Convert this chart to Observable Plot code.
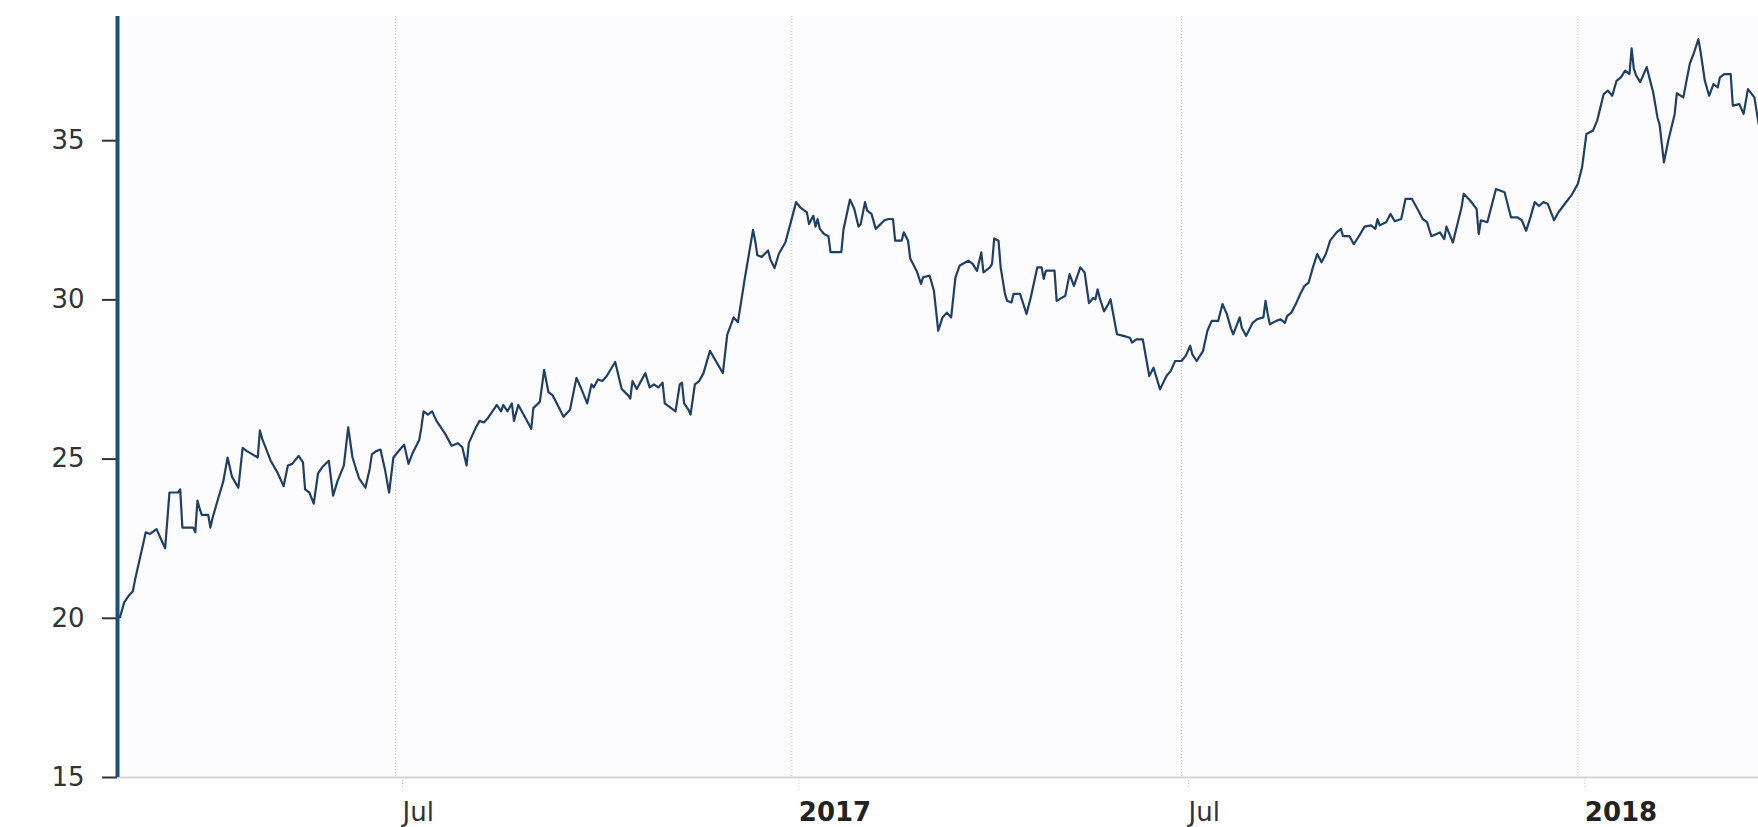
<!DOCTYPE html>
<html><head><meta charset="utf-8">
<script src="https://cdn.jsdelivr.net/npm/d3@7"></script>
<script src="https://cdn.jsdelivr.net/npm/@observablehq/plot@0.6"></script>
<style>html,body{margin:0;padding:0;background:#fff;} svg{display:block}</style>
</head><body><div id="chart"></div>
<script>
const dates = [
"2016-02-24","2016-02-26","2016-02-28","2016-03-01","2016-03-02","2016-03-05","2016-03-07","2016-03-09","2016-03-12","2016-03-14",
"2016-03-16","2016-03-18","2016-03-22","2016-03-23","2016-03-24","2016-03-29","2016-03-30","2016-03-31","2016-04-01","2016-04-02",
"2016-04-05","2016-04-06","2016-04-07","2016-04-10","2016-04-12","2016-04-14","2016-04-16","2016-04-19","2016-04-21","2016-04-23",
"2016-04-28","2016-04-29","2016-04-30","2016-05-04","2016-05-07","2016-05-10","2016-05-12","2016-05-14","2016-05-17","2016-05-19",
"2016-05-20","2016-05-22","2016-05-24","2016-05-26","2016-05-28","2016-05-31","2016-06-02","2016-06-04","2016-06-07","2016-06-09",
"2016-06-11","2016-06-14","2016-06-17","2016-06-19","2016-06-20","2016-06-22","2016-06-24","2016-06-26","2016-06-28","2016-06-30",
"2016-07-03","2016-07-05","2016-07-07","2016-07-09","2016-07-12","2016-07-13","2016-07-14","2016-07-16","2016-07-18","2016-07-20",
"2016-07-24","2016-07-27","2016-07-30","2016-08-01","2016-08-03","2016-08-04","2016-08-07","2016-08-09","2016-08-11","2016-08-13",
"2016-08-16","2016-08-17","2016-08-19","2016-08-20","2016-08-22","2016-08-24","2016-08-25","2016-08-27","2016-08-30","2016-09-02",
"2016-09-03","2016-09-06","2016-09-08","2016-09-10","2016-09-12","2016-09-15","2016-09-17","2016-09-20","2016-09-23","2016-09-25",
"2016-09-28","2016-09-30","2016-10-01","2016-10-03","2016-10-05","2016-10-07","2016-10-11","2016-10-14","2016-10-17","2016-10-18",
"2016-10-19","2016-10-21","2016-10-25","2016-10-27","2016-10-29","2016-10-31","2016-11-02","2016-11-03","2016-11-06","2016-11-08",
"2016-11-10","2016-11-11","2016-11-12","2016-11-14","2016-11-15","2016-11-17","2016-11-19","2016-11-21","2016-11-24","2016-11-27",
"2016-11-30","2016-12-02","2016-12-05","2016-12-07","2016-12-10","2016-12-14","2016-12-15","2016-12-16","2016-12-18","2016-12-21",
"2016-12-22","2016-12-24","2016-12-26","2016-12-29","2016-12-31",
"2017-01-03","2017-01-05","2017-01-08","2017-01-09","2017-01-11","2017-01-12","2017-01-13","2017-01-14","2017-01-16","2017-01-18",
"2017-01-19","2017-01-24","2017-01-25","2017-01-28","2017-01-30","2017-02-01","2017-02-02","2017-02-04","2017-02-05","2017-02-07",
"2017-02-09","2017-02-13","2017-02-15","2017-02-17","2017-02-18","2017-02-21","2017-02-22","2017-02-24","2017-02-25","2017-02-28",
"2017-03-02","2017-03-03","2017-03-06","2017-03-08","2017-03-10","2017-03-12","2017-03-14","2017-03-16","2017-03-18","2017-03-20",
"2017-03-24","2017-03-26","2017-03-28","2017-03-30","2017-03-31","2017-04-03","2017-04-04","2017-04-05","2017-04-07","2017-04-08",
"2017-04-10","2017-04-11","2017-04-13","2017-04-14","2017-04-17","2017-04-20","2017-04-22","2017-04-25","2017-04-27","2017-04-28",
"2017-04-29","2017-05-03","2017-05-04","2017-05-08","2017-05-10","2017-05-12","2017-05-15","2017-05-17","2017-05-19","2017-05-21",
"2017-05-22","2017-05-23","2017-05-24","2017-05-26","2017-05-28","2017-05-29","2017-06-01","2017-06-04","2017-06-07","2017-06-08",
"2017-06-10","2017-06-13","2017-06-16","2017-06-18","2017-06-21","2017-06-24","2017-06-26","2017-06-28","2017-07-01","2017-07-03",
"2017-07-05","2017-07-06","2017-07-08","2017-07-10","2017-07-11","2017-07-13","2017-07-15","2017-07-18","2017-07-20","2017-07-22",
"2017-07-24","2017-07-25","2017-07-28","2017-07-29","2017-07-31","2017-08-03","2017-08-05","2017-08-08","2017-08-09","2017-08-10",
"2017-08-11","2017-08-14","2017-08-16","2017-08-18","2017-08-19","2017-08-21","2017-08-23","2017-08-25","2017-08-27","2017-08-29",
"2017-08-31","2017-09-02","2017-09-04","2017-09-06","2017-09-08","2017-09-11","2017-09-13","2017-09-14","2017-09-17","2017-09-19",
"2017-09-21","2017-09-24","2017-09-27","2017-09-29","2017-09-30","2017-10-01","2017-10-04","2017-10-06","2017-10-08","2017-10-11",
"2017-10-13","2017-10-16","2017-10-19","2017-10-21","2017-10-23","2017-10-25","2017-10-29","2017-10-31","2017-11-01","2017-11-04",
"2017-11-08","2017-11-09","2017-11-12","2017-11-15","2017-11-16","2017-11-17","2017-11-20","2017-11-24","2017-11-28","2017-12-01",
"2017-12-04","2017-12-06","2017-12-08","2017-12-10","2017-12-12","2017-12-14","2017-12-16","2017-12-18","2017-12-21","2017-12-23",
"2017-12-26","2017-12-29",
"2018-01-01","2018-01-03","2018-01-05","2018-01-08","2018-01-10","2018-01-13","2018-01-15","2018-01-17","2018-01-19","2018-01-21",
"2018-01-23","2018-01-25","2018-01-26","2018-01-27","2018-01-28","2018-01-30","2018-02-02","2018-02-04","2018-02-05","2018-02-07",
"2018-02-08","2018-02-10","2018-02-12","2018-02-15","2018-02-16","2018-02-19","2018-02-22","2018-02-24","2018-02-26","2018-02-27",
"2018-03-01","2018-03-03","2018-03-05","2018-03-07","2018-03-08","2018-03-10","2018-03-13","2018-03-14","2018-03-17","2018-03-19",
"2018-03-21","2018-03-24","2018-03-26"
];
const values = [
20.03,20.5,20.7,20.85,21.2,22.1,22.7,22.65,22.8,22.5,
22.2,23.95,23.95,24.05,22.85,22.85,22.7,23.7,23.45,23.25,
23.25,22.85,23.15,23.85,24.3,25.05,24.45,24.1,25.35,25.25,
25.05,25.9,25.65,24.95,24.6,24.15,24.8,24.85,25.1,24.9,
24.05,23.95,23.6,24.55,24.75,24.95,23.85,24.3,24.8,26.0,
25.05,24.4,24.1,24.7,25.15,25.25,25.3,24.7,23.95,25.05,
25.3,25.45,24.85,25.2,25.6,26.0,26.5,26.4,26.5,26.2,
25.8,25.42,25.5,25.37,24.8,25.5,25.95,26.2,26.15,26.3,
26.6,26.7,26.5,26.7,26.5,26.75,26.2,26.7,26.33,25.95,
26.6,26.8,27.8,27.1,27.0,26.6,26.33,26.55,27.55,27.25,
26.75,27.35,27.25,27.5,27.45,27.6,28.05,27.2,27.0,26.9,
27.45,27.2,27.7,27.25,27.35,27.25,27.4,26.75,26.6,26.5,
27.35,27.4,26.75,26.55,26.4,27.35,27.45,27.7,28.4,28.05,
27.7,28.9,29.45,29.3,30.6,32.2,31.86,31.4,31.35,31.55,
31.28,31.0,31.45,31.8,32.3,
33.07,32.9,32.75,32.38,32.64,32.3,32.54,32.23,32.07,32.0,
31.5,31.5,32.2,33.15,32.86,32.3,32.38,33.07,32.8,32.7,
32.23,32.5,32.54,32.54,31.86,31.86,32.12,31.86,31.3,30.91,
30.5,30.71,30.76,30.29,29.03,29.45,29.6,29.45,30.71,31.08,
31.23,31.13,30.91,31.49,30.86,31.02,31.13,31.93,31.86,31.02,
30.19,29.97,29.92,30.19,30.19,29.56,30.08,31.02,31.02,30.66,
30.92,30.92,29.97,30.13,30.81,30.44,31.02,30.86,29.9,30.06,
30.02,30.33,30.06,29.64,29.87,30.02,28.92,28.87,28.81,28.66,
28.76,28.76,27.61,27.87,27.19,27.61,27.77,28.08,28.08,28.25,
28.56,28.29,28.08,28.29,28.4,29.03,29.34,29.34,29.87,29.56,
29.09,28.92,29.45,29.12,28.87,29.28,29.39,29.45,29.97,29.56,
29.23,29.34,29.39,29.28,29.49,29.6,29.86,30.17,30.43,30.54,
31.02,31.44,31.18,31.44,31.86,32.12,32.23,32.0,32.0,31.75,
31.96,32.3,32.34,32.23,32.54,32.34,32.44,32.7,32.47,32.54,
33.17,33.17,32.8,32.54,32.44,32.0,32.12,31.91,32.3,31.8,
32.9,33.33,33.12,32.86,32.07,32.5,32.44,33.48,33.38,32.59,
32.59,32.5,32.17,32.59,33.07,32.95,33.07,33.02,32.5,32.75,
33.02,33.28,
33.64,34.17,35.21,35.31,35.63,36.46,36.57,36.41,36.88,36.99,
37.2,37.09,37.9,37.27,37.06,36.84,37.31,36.78,36.52,35.73,
35.5,34.32,35.0,35.84,36.49,36.36,37.41,37.77,38.19,37.8,
36.88,36.41,36.78,36.67,36.99,37.09,37.09,36.1,36.15,35.84,
36.62,36.36,35.52
];
const yTicks = [15, 20, 25, 30, 35];
const julyTicks = ["2016-07-01", "2017-07-01"];
const yearTicks = ["2017-01-01", "2018-01-01"];
const xDomain = ["2016-02-22T21:00Z", "2018-03-25T22:00Z"];
const yDomain = [15, 38.9];

const data = dates.map((d, i) => ({date: new Date(d), value: values[i]}));
const jul = julyTicks.map(d => new Date(d));
const yr = yearTicks.map(d => new Date(d));
const allTicks = jul.concat(yr);

const chart = Plot.plot({
  width: 1758, height: 827,
  marginLeft: 117, marginRight: 0, marginTop: 16, marginBottom: 50,
  style: {fontFamily: "'DejaVu Sans', Verdana, sans-serif", background: "#ffffff", overflow: "visible"},
  x: {type: "utc", domain: xDomain.map(d => new Date(d)), label: null},
  y: {domain: yDomain, label: null},
  marks: [
    Plot.frame({fill: "#fcfcfe", stroke: null}),
    Plot.gridX(allTicks, {stroke: "#c4c4c4", strokeOpacity: 1, strokeDasharray: "1,2"}),
    Plot.ruleY([15], {stroke: "#d6d6d6", strokeWidth: 2}),
    Plot.axisX(jul, {tickSize: 11, tickPadding: 14, stroke: "#c4c4c4", strokeDasharray: "1,2",
      tickFormat: d3.utcFormat("%b"), textAnchor: "start", dx: 7, fontSize: 26, fill: "#333", label: null}),
    Plot.axisX(yr, {tickSize: 11, tickPadding: 14, stroke: "#c4c4c4", strokeDasharray: "1,2",
      tickFormat: d3.utcFormat("%Y"), textAnchor: "start", dx: 7, fontSize: 26, fontWeight: "bold", fill: "#222", label: null}),
    Plot.axisY(yTicks, {tickSize: 15, tickPadding: 18, stroke: "#333", strokeWidth: 2, fontSize: 26, fill: "#333", label: null}),
    Plot.ruleX([new Date(xDomain[0])], {stroke: "#1d4f7c", strokeWidth: 4}),
    Plot.lineY(data, {x: "date", y: "value", stroke: "#1e3f66", strokeWidth: 2.2, clip: true})
  ]
});
document.getElementById("chart").append(chart);
</script>
</body></html>
